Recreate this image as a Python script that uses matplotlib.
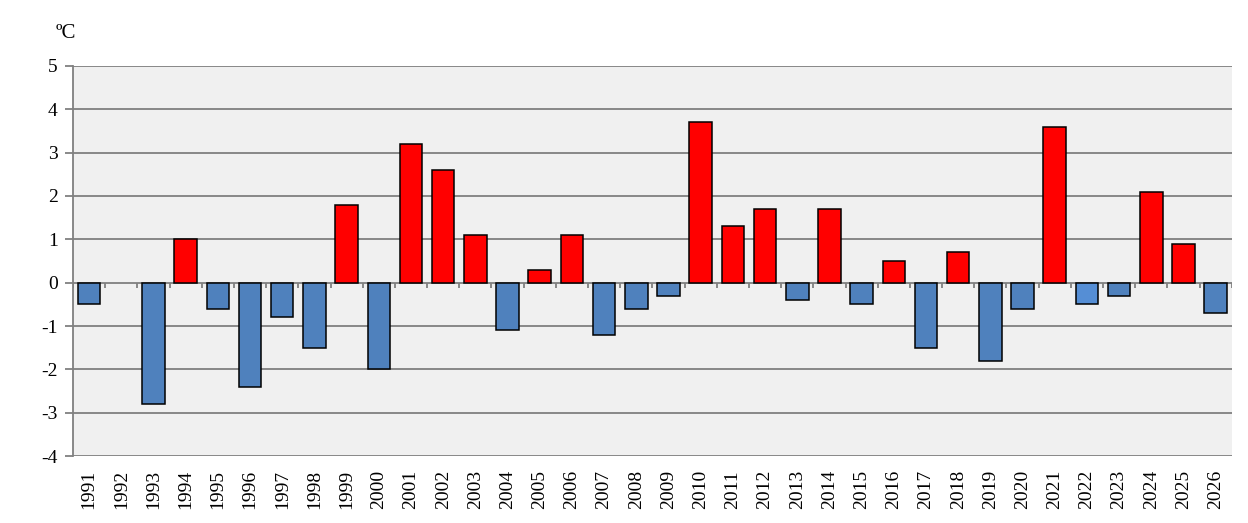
import matplotlib.pyplot as plt
import numpy as np

years = list(range(1991, 2027))
anomaly = [-0.5, np.nan, -2.8, 1.0, -0.6, -2.4, -0.8, -1.5, 1.8, -2.0,
           3.2, 2.6, 1.1, -1.1, 0.3, 1.1, -1.2, -0.6, -0.3, 3.7,
           1.3, 1.7, -0.4, 1.7, -0.5, 0.5, -1.5, 0.7, -1.8, -0.6,
           3.6, -0.5, -0.3, 2.1, 0.9, -0.7]

plt.rcParams['font.family'] = ['Liberation Serif', 'DejaVu Serif']
plt.rcParams['axes.unicode_minus'] = False

fig = plt.figure(figsize=(12.48, 5.23), dpi=100)
ax = fig.add_axes([0.0585, 0.128, 0.9285, 0.746])
ax.set_facecolor('#f0f0f0')

x = np.arange(len(years))
colors = []
for y, v in zip(years, anomaly):
    if v > 0:
        colors.append('#ff0000')
    elif y == 2022:
        colors.append('#558ed5')
    else:
        colors.append('#4f81bd')

ax.bar(x, anomaly, width=0.7, color=colors, edgecolor='black', linewidth=1.1, zorder=3)

ax.set_xlim(-0.5, len(years) - 0.5)
ax.set_ylim(-4, 5)
ax.set_yticks(range(-4, 6))
ax.yaxis.grid(True, color='#808080', linewidth=1.3, zorder=1)
ax.set_axisbelow(True)

# small ticks on the zero line at category boundaries
bounds = np.arange(len(years) + 1) - 0.5
ax.vlines(bounds, -0.12, 0, color='#808080', linewidth=1.3, zorder=2)

for s in ['top', 'right', 'bottom']:
    ax.spines[s].set_visible(False)
ax.spines['left'].set_color('#808080')
ax.spines['left'].set_linewidth(1.3)

ax.set_xticks(x)
ax.set_xticklabels([str(y) for y in years], rotation=90, fontsize=14)
ax.tick_params(axis='x', length=0, pad=10)
ax.tick_params(axis='y', length=6, color='#808080', width=1.3, labelsize=14, pad=5)

fig.text(0.053, 0.935, 'ºC', fontsize=15, ha='center', va='center')

plt.savefig('out.png')
